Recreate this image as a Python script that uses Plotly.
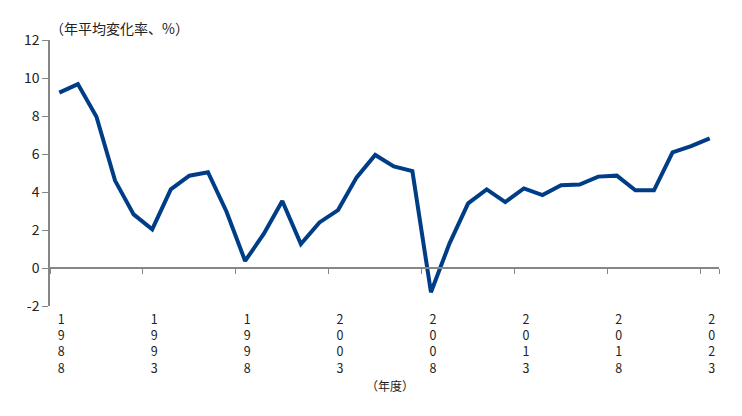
import plotly.graph_objects as go

years = [str(y) for y in range(1988, 2024)]
values = [9.23, 9.68, 7.96, 4.6, 2.82, 2.03, 4.14, 4.86, 5.04, 2.96,
          0.37, 1.79, 3.53, 1.26, 2.4, 3.05, 4.77, 5.95, 5.35, 5.1,
          -1.28, 1.3, 3.4, 4.14, 3.47, 4.19, 3.84, 4.35, 4.39, 4.81,
          4.86, 4.09, 4.09, 6.09, 6.42, 6.82]
label_years = [str(y) for y in range(1988, 2024, 5)]
label_text = ["<br>".join(list(y)) for y in label_years]
y_ticks = [-2, 0, 2, 4, 6, 8, 10, 12]
y_tick_text = [str(v) for v in y_ticks]

FONT = "Noto Sans CJK JP, Noto Sans, sans-serif"
AXIS_COLOR = "#868686"

fig = go.Figure()
fig.add_trace(go.Scatter(
    x=years, y=values, mode="lines",
    line=dict(color="#003D87", width=4),
    hoverinfo="x+y",
))

fig.update_layout(
    width=742, height=416,
    margin=dict(l=50, r=23, t=40, b=110, autoexpand=False),
    paper_bgcolor="white", plot_bgcolor="white",
    showlegend=False,
    font=dict(family=FONT, color="#222222"),
    xaxis=dict(
        type="category",
        categoryorder="array", categoryarray=years,
        range=[-0.5, 35.5],
        anchor="free", position=1/7,
        showline=True, linecolor=AXIS_COLOR, linewidth=1.5,
        ticks="outside", ticklen=5, tickcolor=AXIS_COLOR, tickwidth=1,
        tickson="boundaries",
        tickmode="array", tickvals=label_years, ticktext=label_text,
        tickfont=dict(size=12.5, family=FONT, color="#222222"),
        ticklabelstandoff=40, ticklabelshift=2,
        showgrid=False, zeroline=False, automargin=False,
    ),
    yaxis=dict(
        range=[-2, 12],
        tickmode="array", tickvals=y_ticks, ticktext=y_tick_text,
        showline=True, linecolor=AXIS_COLOR, linewidth=1.5,
        ticks="outside", ticklen=6, tickcolor=AXIS_COLOR, tickwidth=1,
        tickfont=dict(size=14, family=FONT, color="#222222"),
        showgrid=False, zeroline=False, automargin=False,
    ),
    annotations=[
        dict(text="（年平均変化率、%）", xref="paper", yref="paper",
             x=0, y=1, xanchor="left", yanchor="middle", yshift=12, xshift=-2,
             showarrow=False, font=dict(size=14, family=FONT, color="#222222")),
        dict(text="（年度）", xref="paper", yref="paper",
             x=(390 - 50) / 669, y=0, xanchor="center", yanchor="middle",
             yshift=-79, showarrow=False,
             font=dict(size=12, family=FONT, color="#222222")),
    ],
)

fig.write_html("out.html", post_script="document.body.style.margin='0';",
               config={"displayModeBar": False})
